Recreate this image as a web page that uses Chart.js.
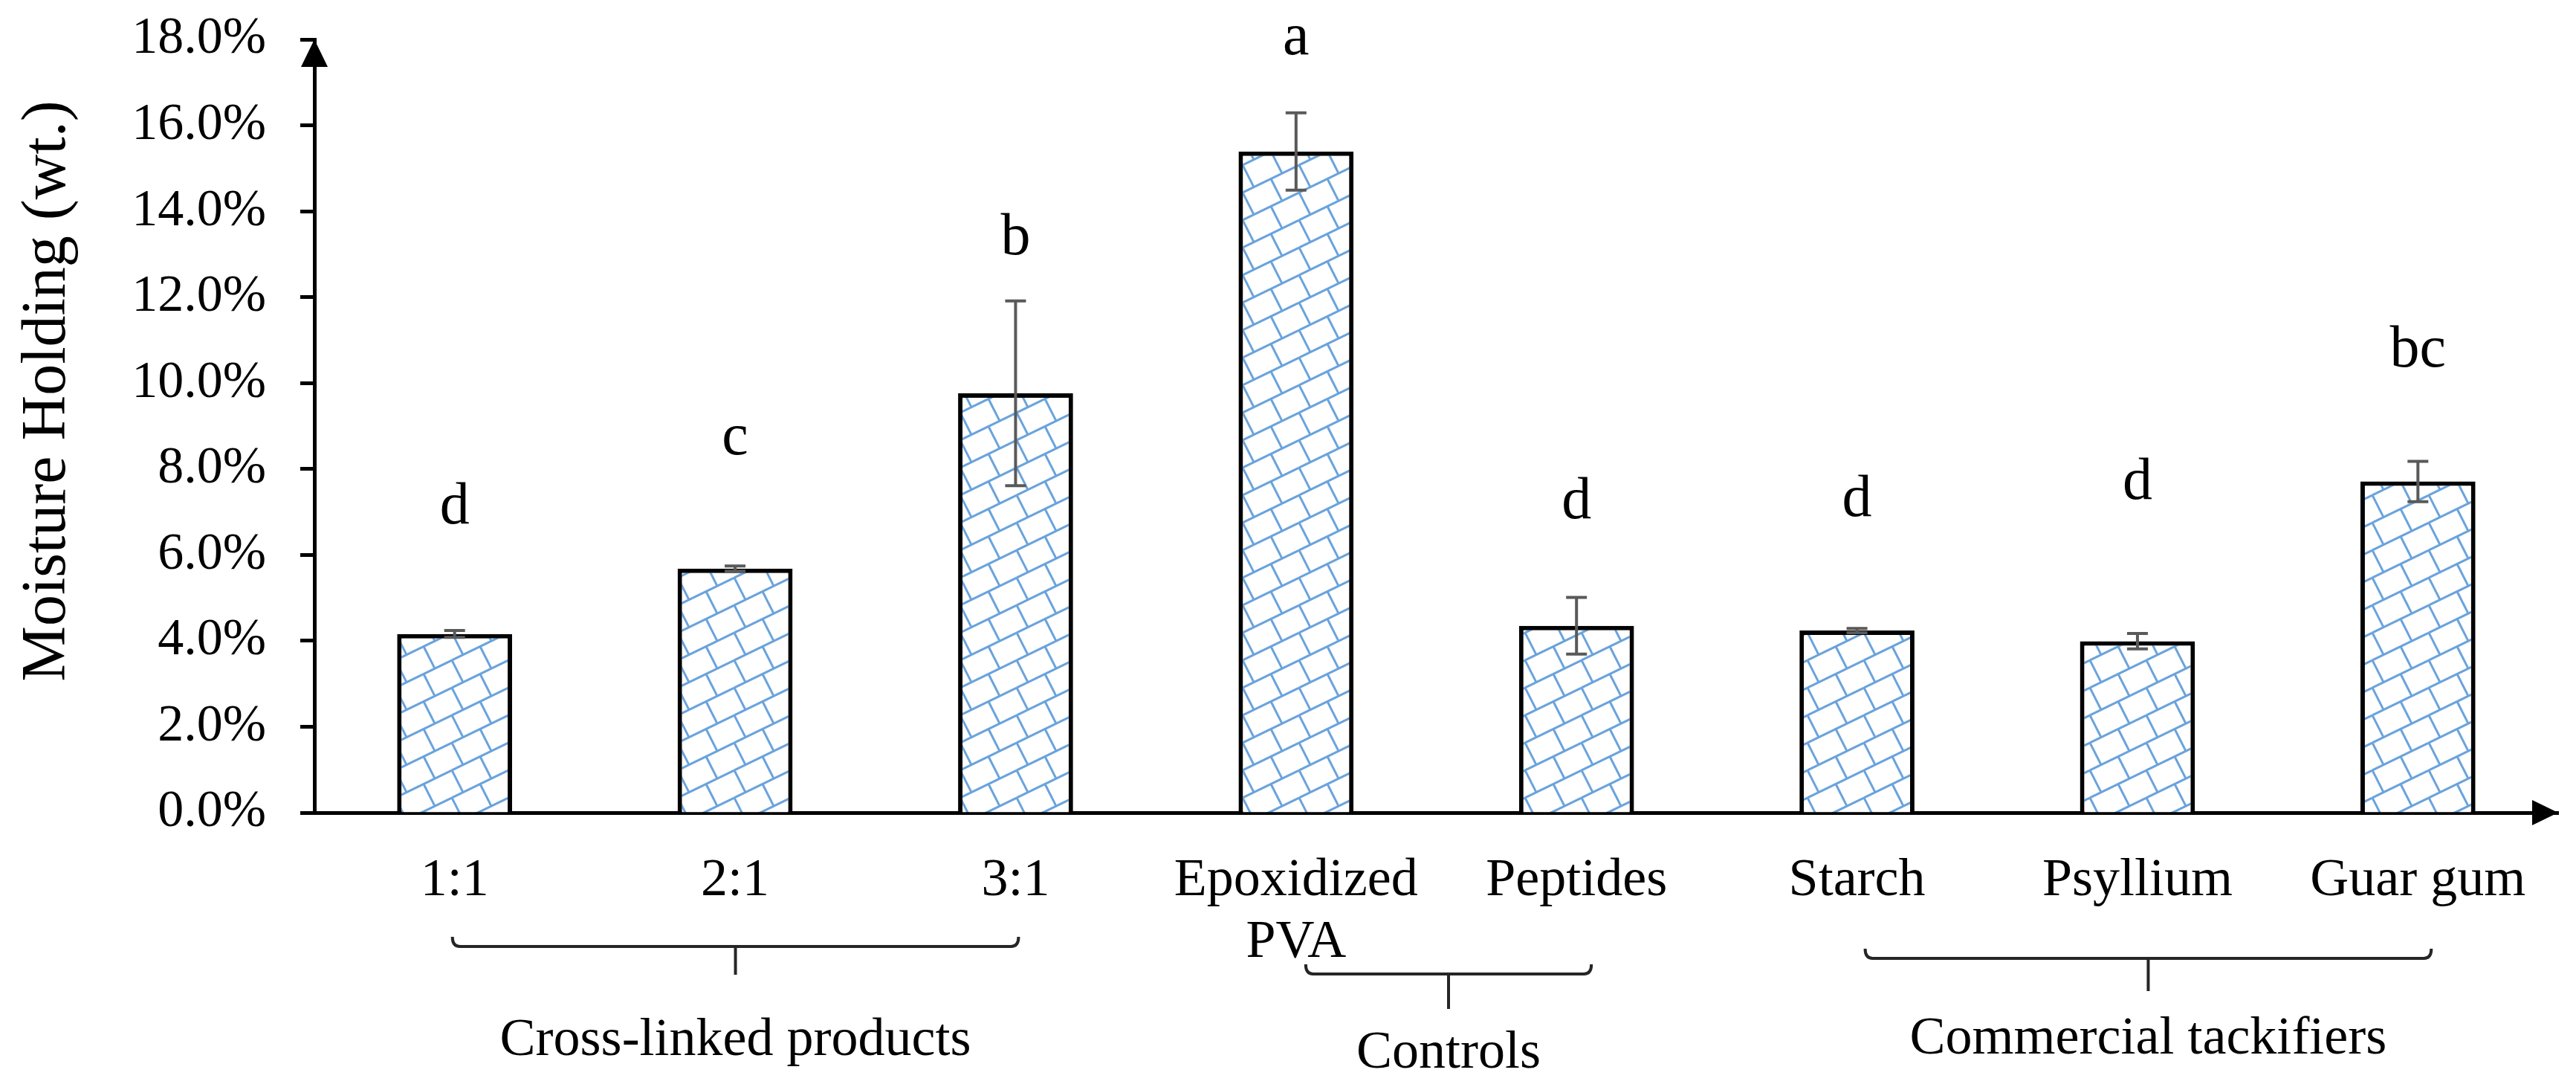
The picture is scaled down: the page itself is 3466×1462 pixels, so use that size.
<!DOCTYPE html>
<html>
<head>
<meta charset="utf-8">
<script src="https://cdn.jsdelivr.net/npm/chart.js@4"></script>
<style>
  body { margin: 0; background: #fff; }
  canvas { display: block; }
</style>
</head>
<body>
<canvas id="myChart" width="3466" height="1462"></canvas>
<script>
let labels = ['1:1', '2:1', '3:1', ['Epoxidized', 'PVA'], 'Peptides', 'Starch', 'Psyllium', 'Guar gum'];
let moisture = [4.16, 5.68, 9.76, 15.39, 4.35, 4.24, 3.99, 7.71];
let errors = [0.08, 0.06, 2.15, 0.9, 0.66, 0.05, 0.18, 0.47];
let letters = ['d', 'c', 'b', 'a', 'd', 'd', 'd', 'bc'];
let letterAt = [6.74, 8.35, 13.0, 17.65, 6.86, 6.9, 7.31, 10.38];
let groupNames = ['Cross-linked products', 'Controls', 'Commercial tackifiers'];
let groupFirst = [0, 3, 5];
let groupLast = [2, 4, 7];

const serif = '"Liberation Serif", "Times New Roman", serif';

// light blue shingle-like hatch, as in the Excel pattern fill
function makeHatch() {
  const c = document.createElement('canvas');
  c.width = 76; c.height = 37;
  const g = c.getContext('2d');
  g.fillStyle = '#ffffff';
  g.fillRect(0, 0, 76, 37);
  g.strokeStyle = '#6aa3dc';
  g.lineWidth = 3;
  for (const dx of [-76, 0, 76]) {
    for (const dy of [-37, 0, 37]) {
      g.beginPath();
      g.moveTo(dx, 37 + dy);
      g.lineTo(76 + dx, dy);
      g.stroke();
      for (const x0 of [0, 38]) {
        const y0 = 37 - x0 * 37 / 76;
        g.beginPath();
        g.moveTo(x0 + dx, y0 + dy);
        g.lineTo(x0 + 15 + dx, y0 + 29.6 + dy);
        g.stroke();
      }
    }
  }
  return g.createPattern(c, 'repeat');
}

const extras = {
  id: 'extras',
  afterDatasetsDraw(chart) {
    const ctx = chart.ctx;
    const x = chart.scales.x, y = chart.scales.y;
    // error bars
    ctx.save();
    ctx.strokeStyle = '#595959';
    ctx.lineWidth = 4;
    moisture.forEach((v, i) => {
      const px = x.getPixelForValue(i);
      const top = y.getPixelForValue(v + errors[i]);
      const bot = y.getPixelForValue(v - errors[i]);
      ctx.beginPath();
      ctx.moveTo(px, top); ctx.lineTo(px, bot);
      ctx.moveTo(px - 14, top); ctx.lineTo(px + 14, top);
      ctx.moveTo(px - 14, bot); ctx.lineTo(px + 14, bot);
      ctx.stroke();
    });
    ctx.restore();
  },
  afterDraw(chart) {
    const ctx = chart.ctx;
    const x = chart.scales.x, y = chart.scales.y;
    const area = chart.chartArea;
    ctx.save();
    // significance letters
    ctx.fillStyle = '#000';
    ctx.font = '80px ' + serif;
    ctx.textAlign = 'center';
    ctx.textBaseline = 'alphabetic';
    letters.forEach((t, i) => {
      ctx.fillText(t, x.getPixelForValue(i), y.getPixelForValue(letterAt[i]));
    });

    // axis arrows
    ctx.beginPath();
    ctx.moveTo(area.left, area.top);
    ctx.lineTo(area.left - 18, area.top + 37);
    ctx.lineTo(area.left + 18, area.top + 37);
    ctx.closePath();
    ctx.fill();
    ctx.beginPath();
    ctx.moveTo(area.right, area.bottom);
    ctx.lineTo(area.right - 35, area.bottom - 17);
    ctx.lineTo(area.right - 35, area.bottom + 17);
    ctx.closePath();
    ctx.fill();

    // y axis title
    ctx.save();
    ctx.translate(65, 526);
    ctx.rotate(-Math.PI / 2);
    ctx.font = '84px ' + serif;
    ctx.textBaseline = 'middle';
    ctx.fillText('Moisture Holding (wt.)', 0, 0);
    ctx.restore();

    // group brackets
    const lineY = [1273, 1310, 1289];
    const tickY = [1311, 1357, 1333];
    const textY = [1419, 1436, 1417];
    const shift = [0, 16, 14];
    ctx.strokeStyle = '#262626';
    ctx.lineWidth = 4;
    ctx.font = '72px ' + serif;
    groupNames.forEach((name, g) => {
      const x1 = x.getPixelForValue(groupFirst[g]) + shift[g] - 3;
      const x2 = x.getPixelForValue(groupLast[g]) + shift[g] + 4;
      const mid = (x1 + x2) / 2;
      ctx.beginPath();
      ctx.moveTo(x1, lineY[g] - 13);
      ctx.quadraticCurveTo(x1, lineY[g], x1 + 10, lineY[g]);
      ctx.lineTo(x2 - 10, lineY[g]);
      ctx.quadraticCurveTo(x2, lineY[g], x2, lineY[g] - 13);
      ctx.moveTo(mid, lineY[g]);
      ctx.lineTo(mid, tickY[g]);
      ctx.stroke();
      ctx.fillText(name, mid, textY[g]);
    });
    ctx.restore();
  }
};

let chart = new Chart(document.getElementById('myChart').getContext('2d'), {
  type: 'bar',
  data: {
    labels: labels,
    datasets: [{
      data: moisture,
      backgroundColor: makeHatch(),
      borderColor: '#000',
      borderWidth: 6,
      barPercentage: 0.41,
      categoryPercentage: 1
    }]
  },
  options: {
    responsive: false,
    devicePixelRatio: 1,
    animation: false,
    layout: { padding: { top: 53, right: 24, bottom: 0, left: 0 } },
    plugins: {
      legend: { display: false },
      tooltip: { enabled: false }
    },
    scales: {
      x: {
        grid: { display: false },
        border: { display: true, color: '#000', width: 5 },
        ticks: {
          color: '#000',
          padding: 43,
          maxRotation: 0,
          autoSkip: false,
          font: { family: serif, size: 72, lineHeight: 1.15 }
        },
        afterFit(scale) {
          scale.height = 369;
          scale.paddingLeft = 0;
          scale.paddingRight = 0;
        }
      },
      y: {
        min: 0,
        max: 18,
        grid: {
          drawOnChartArea: false,
          drawTicks: true,
          tickLength: 19,
          tickWidth: 5,
          tickColor: '#000'
        },
        border: { display: true, color: '#000', width: 5 },
        ticks: {
          stepSize: 2,
          color: '#000',
          padding: 46,
          font: { family: serif, size: 70 },
          callback: v => v.toFixed(1) + '%'
        },
        afterFit(scale) {
          scale.width = 423;
          scale.paddingTop = 0;
          scale.paddingBottom = 0;
        }
      }
    }
  },
  plugins: [extras]
});
</script>
</body>
</html>
